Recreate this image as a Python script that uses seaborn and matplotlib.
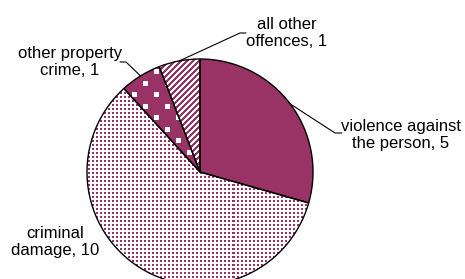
import numpy as np
import matplotlib
matplotlib.use("Agg")
import matplotlib.pyplot as plt
import seaborn as sns

# -------------------------------
# Data
# -------------------------------
categories = ["violence against\nthe person", "criminal\ndamage",
              "other property\ncrime", "all other\noffences"]
counts = [5, 10, 1, 1]

plum = "#993366"
# fill style per slice: solid, small dots, white squares, stripes
fills = ["solid", "dots", "squares", "stripes"]

# label positions (pixel layout, y measured from top)
label_pos = [(401, 135), (55, 242), (70, 62), (287, 33)]
elbow_pos = [(335, 133), None, (126, 62), (240, 33)]
tick_end = [(342, 133), None, (120, 62), (246, 33)]

sns.set_theme(style="white")
plt.rcParams["font.family"] = ["Liberation Sans", "DejaVu Sans"]

W, H = 465, 279
fig = plt.figure(figsize=(W / 100, H / 100), dpi=100)
ax = fig.add_axes([0, 0, 1, 1])

cx, cy, r = 200, H - 172, 113

# -------------------------------
# Texture images (pixel patterns, clipped to each wedge)
# -------------------------------
yy, xx = np.mgrid[0:H, 0:W]
pc = np.array(matplotlib.colors.to_rgb(plum))
white = np.ones(3)


def texture(mask):
    img = np.where(mask[..., None], pc, white)
    return img


patterns = {
    "solid": np.ones((H, W), bool),
    "dots": (xx % 4 < 2) & (yy % 4 < 2),
    "squares": ~((((xx % 22) < 5) & ((yy % 23) < 5)) |
                 ((((xx + 11) % 22) < 5) & (((yy + 11) % 23) < 5))),
    "stripes": ((xx + yy) % 6) < 3,
}

wedges, _ = ax.pie(counts, startangle=90, counterclock=False,
                   center=(cx, cy), radius=r,
                   wedgeprops=dict(linewidth=0, facecolor="white"))
for w, f in zip(wedges, fills):
    im = ax.imshow(texture(patterns[f]), extent=(0, W, 0, H), origin="upper",
                   interpolation="nearest", zorder=1.5)
    im.set_clip_path(w)

# outlines
ax.pie(counts, startangle=90, counterclock=False, center=(cx, cy), radius=r,
       wedgeprops=dict(facecolor="none", edgecolor="black", linewidth=1.0,
                       zorder=2))

# labels + leader lines
for w, cat, n, lp, ep, te in zip(wedges, categories, counts, label_pos, elbow_pos, tick_end):
    ax.text(lp[0], H - lp[1], f"{cat}, {n}", ha="center", va="center",
            fontsize=12, color="black", linespacing=1.2)
    if ep is not None:
        mid = np.deg2rad((w.theta1 + w.theta2) / 2)
        px, py = cx + r * np.cos(mid), cy + r * np.sin(mid)
        ax.plot([px, ep[0], te[0]], [py, H - ep[1], H - te[1]],
                color="black", linewidth=0.8)

ax.set_xlim(0, W)
ax.set_ylim(0, H)
ax.set_aspect("equal")
ax.axis("off")

fig.savefig("out.png", dpi=100)
